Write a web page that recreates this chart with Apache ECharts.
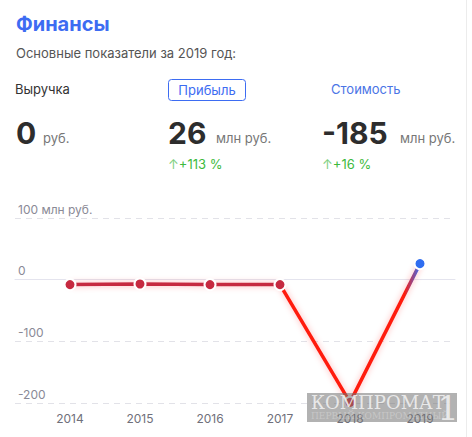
<!DOCTYPE html>
<html><head><meta charset="utf-8">
<script src="https://cdn.jsdelivr.net/npm/echarts@6/dist/echarts.min.js"></script>
<style>html,body{margin:0;padding:0;background:#fff}#c{width:472px;height:437px}</style>
</head><body><div id="c"></div>
<script>
// ---- data ----
const years = ['2014', '2015', '2016', '2017', '2018', '2019'];
const profit = [-8, -7, -8, -8, -199, 26];
const yMin = -200, yMax = 100, yStep = 100;
const yTopLabel = '100 млн руб.';

const title = 'Финансы';
const subtitle = 'Основные показатели за 2019 год:';
const tabs = ['Выручка', 'Прибыль', 'Стоимость'];
const bigValues = ['0', '26', '-185'];
const units = ['руб.', 'млн руб.', 'млн руб.'];
const changes = [null, '+113 %', '+16 %'];

// ---- styles ----
const FONT = 'Inter, Roboto, sans-serif';
const SERIF = 'DejaVu Serif, Liberation Serif, serif';
const BLUE = '#3d6cf2';
const DARKRED = '#c62a40';
const RED = '#ff1a0d';
const GREEN = '#3dba3d';

const chart = echarts.init(document.getElementById('c'), null, {renderer: 'svg'});

const data = profit.map((v, i) => {
  const last = i === profit.length - 1;
  const col = last ? '#2f6df0' : (i >= 4 ? '#e0202c' : DARKRED);
  return {value: v, itemStyle: {color: col, borderColor: '#fff', borderWidth: 2}};
});

function txt(x, y, text, size, fill, weight, extra) {
  return Object.assign({type: 'text', x: x, y: y, z: 10,
    style: {text: text, fontSize: size, fontFamily: FONT, fontWeight: weight || 'normal',
      fill: fill, verticalAlign: 'middle', align: 'left'}}, extra || {});
}

const colX = [16, 168, 322];
const graphics = [
  txt(16, 24, title, 20, BLUE, 'bold'),
  txt(16, 53, subtitle, 13, '#555'),
  txt(15, 89, tabs[0], 13, '#333'),
  {type: 'rect', z: 10, shape: {x: 168.5, y: 79.5, width: 77, height: 21, r: 3},
   style: {fill: '#fff', stroke: BLUE, lineWidth: 1}},
  {type: 'text', z: 11, x: 207, y: 90, style: {text: tabs[1], fontSize: 13, fontFamily: FONT,
   fill: BLUE, align: 'center', verticalAlign: 'middle'}},
  txt(331, 89, tabs[2], 13, '#4a74e6'),
  {type: 'line', z: 10, shape: {x1: 466.5, y1: 0, x2: 466.5, y2: 437}, style: {stroke: '#ececec', lineWidth: 1}}
];
const unitX = [43, 216, 400];
for (let i = 0; i < 3; i++) {
  graphics.push(txt(colX[i], 133, bigValues[i], 30, '#2d2d2d', 'bold'));
  graphics.push(txt(unitX[i], 138, units[i], 13, '#777'));
  if (changes[i]) {
    graphics.push({type: 'text', x: colX[i], y: 164, z: 10, style: {
      text: '{a|↑}{b|' + changes[i] + '}', verticalAlign: 'middle', align: 'left',
      rich: {a: {fontSize: 13, fontFamily: FONT, fill: '#7fd07f', color: '#7fd07f'},
             b: {fontSize: 13, fontFamily: FONT, fill: GREEN, color: GREEN}}}});
  }
}
// watermark
graphics.push({type: 'group', z: 100, children: [
  {type: 'rect', z: 100, shape: {x: 307, y: 393, width: 150, height: 29}, style: {fill: 'rgba(115,115,115,0.55)'}},
  {type: 'text', z: 101, x: 311, y: 402, style: {text: 'КОМПРОМАТ', fontSize: 18, fontFamily: SERIF,
    fill: 'rgba(240,240,240,0.9)', verticalAlign: 'middle', align: 'left'}},
  {type: 'text', z: 101, x: 448, y: 408, style: {text: '1', fontSize: 34, fontFamily: SERIF,
    fill: 'rgba(240,240,240,0.9)', verticalAlign: 'middle', align: 'center'}},
  {type: 'text', z: 101, x: 311, y: 416, style: {text: 'ПЕРВЫЙ КОМПРОМАТНЫЙ', fontSize: 9, fontFamily: SERIF,
    fill: 'rgba(240,240,240,0.35)', verticalAlign: 'middle', align: 'left'}}
]});

chart.setOption({
  animation: false,
  grid: [
    {left: 15, right: 17, top: 218, bottom: 34},
    {left: 35, right: 17, top: 218, bottom: 34}
  ],
  xAxis: [
    {type: 'category', gridIndex: 0, data: years, show: true,
     axisLine: {show: true, onZero: true, lineStyle: {color: '#e4e4ee', width: 1}},
     axisTick: {show: false}, axisLabel: {show: false}, splitLine: {show: false}},
    {type: 'category', gridIndex: 1, data: years, boundaryGap: true,
     axisLine: {show: false}, axisTick: {show: false}, splitLine: {show: false},
     axisLabel: {color: '#6f6f7a', fontSize: 12, fontFamily: FONT, margin: 9}}
  ],
  yAxis: [
    {type: 'value', gridIndex: 0, min: yMin, max: yMax, interval: yStep,
     axisLine: {show: false}, axisTick: {show: false},
     splitLine: {show: true, lineStyle: {color: '#e2e2e8', type: [6, 5], width: 1}},
     axisLabel: {inside: true, margin: 3, color: '#8a8a96', fontSize: 12, fontFamily: FONT,
       verticalAlign: 'bottom', lineHeight: 14, padding: [0, 0, 2, 0],
       formatter: v => v === yMax ? yTopLabel : String(v)}},
    {type: 'value', gridIndex: 1, min: yMin, max: yMax, interval: yStep, show: false}
  ],
  series: [{
    type: 'line', xAxisIndex: 1, yAxisIndex: 1, data: data,
    symbol: 'circle', symbolSize: 11, z: 5,
    lineStyle: {width: 3.5,
      color: new echarts.graphic.LinearGradient(0, 0, 1, 0, [
        {offset: 0, color: DARKRED}, {offset: 0.6, color: DARKRED},
        {offset: 0.6, color: RED}, {offset: 0.955, color: RED},
        {offset: 1, color: '#3a6cf0'}]),
      shadowColor: 'rgba(255,0,0,0.3)', shadowBlur: 6},
    emphasis: {disabled: true}
  }],
  graphic: graphics
});
</script></body></html>
